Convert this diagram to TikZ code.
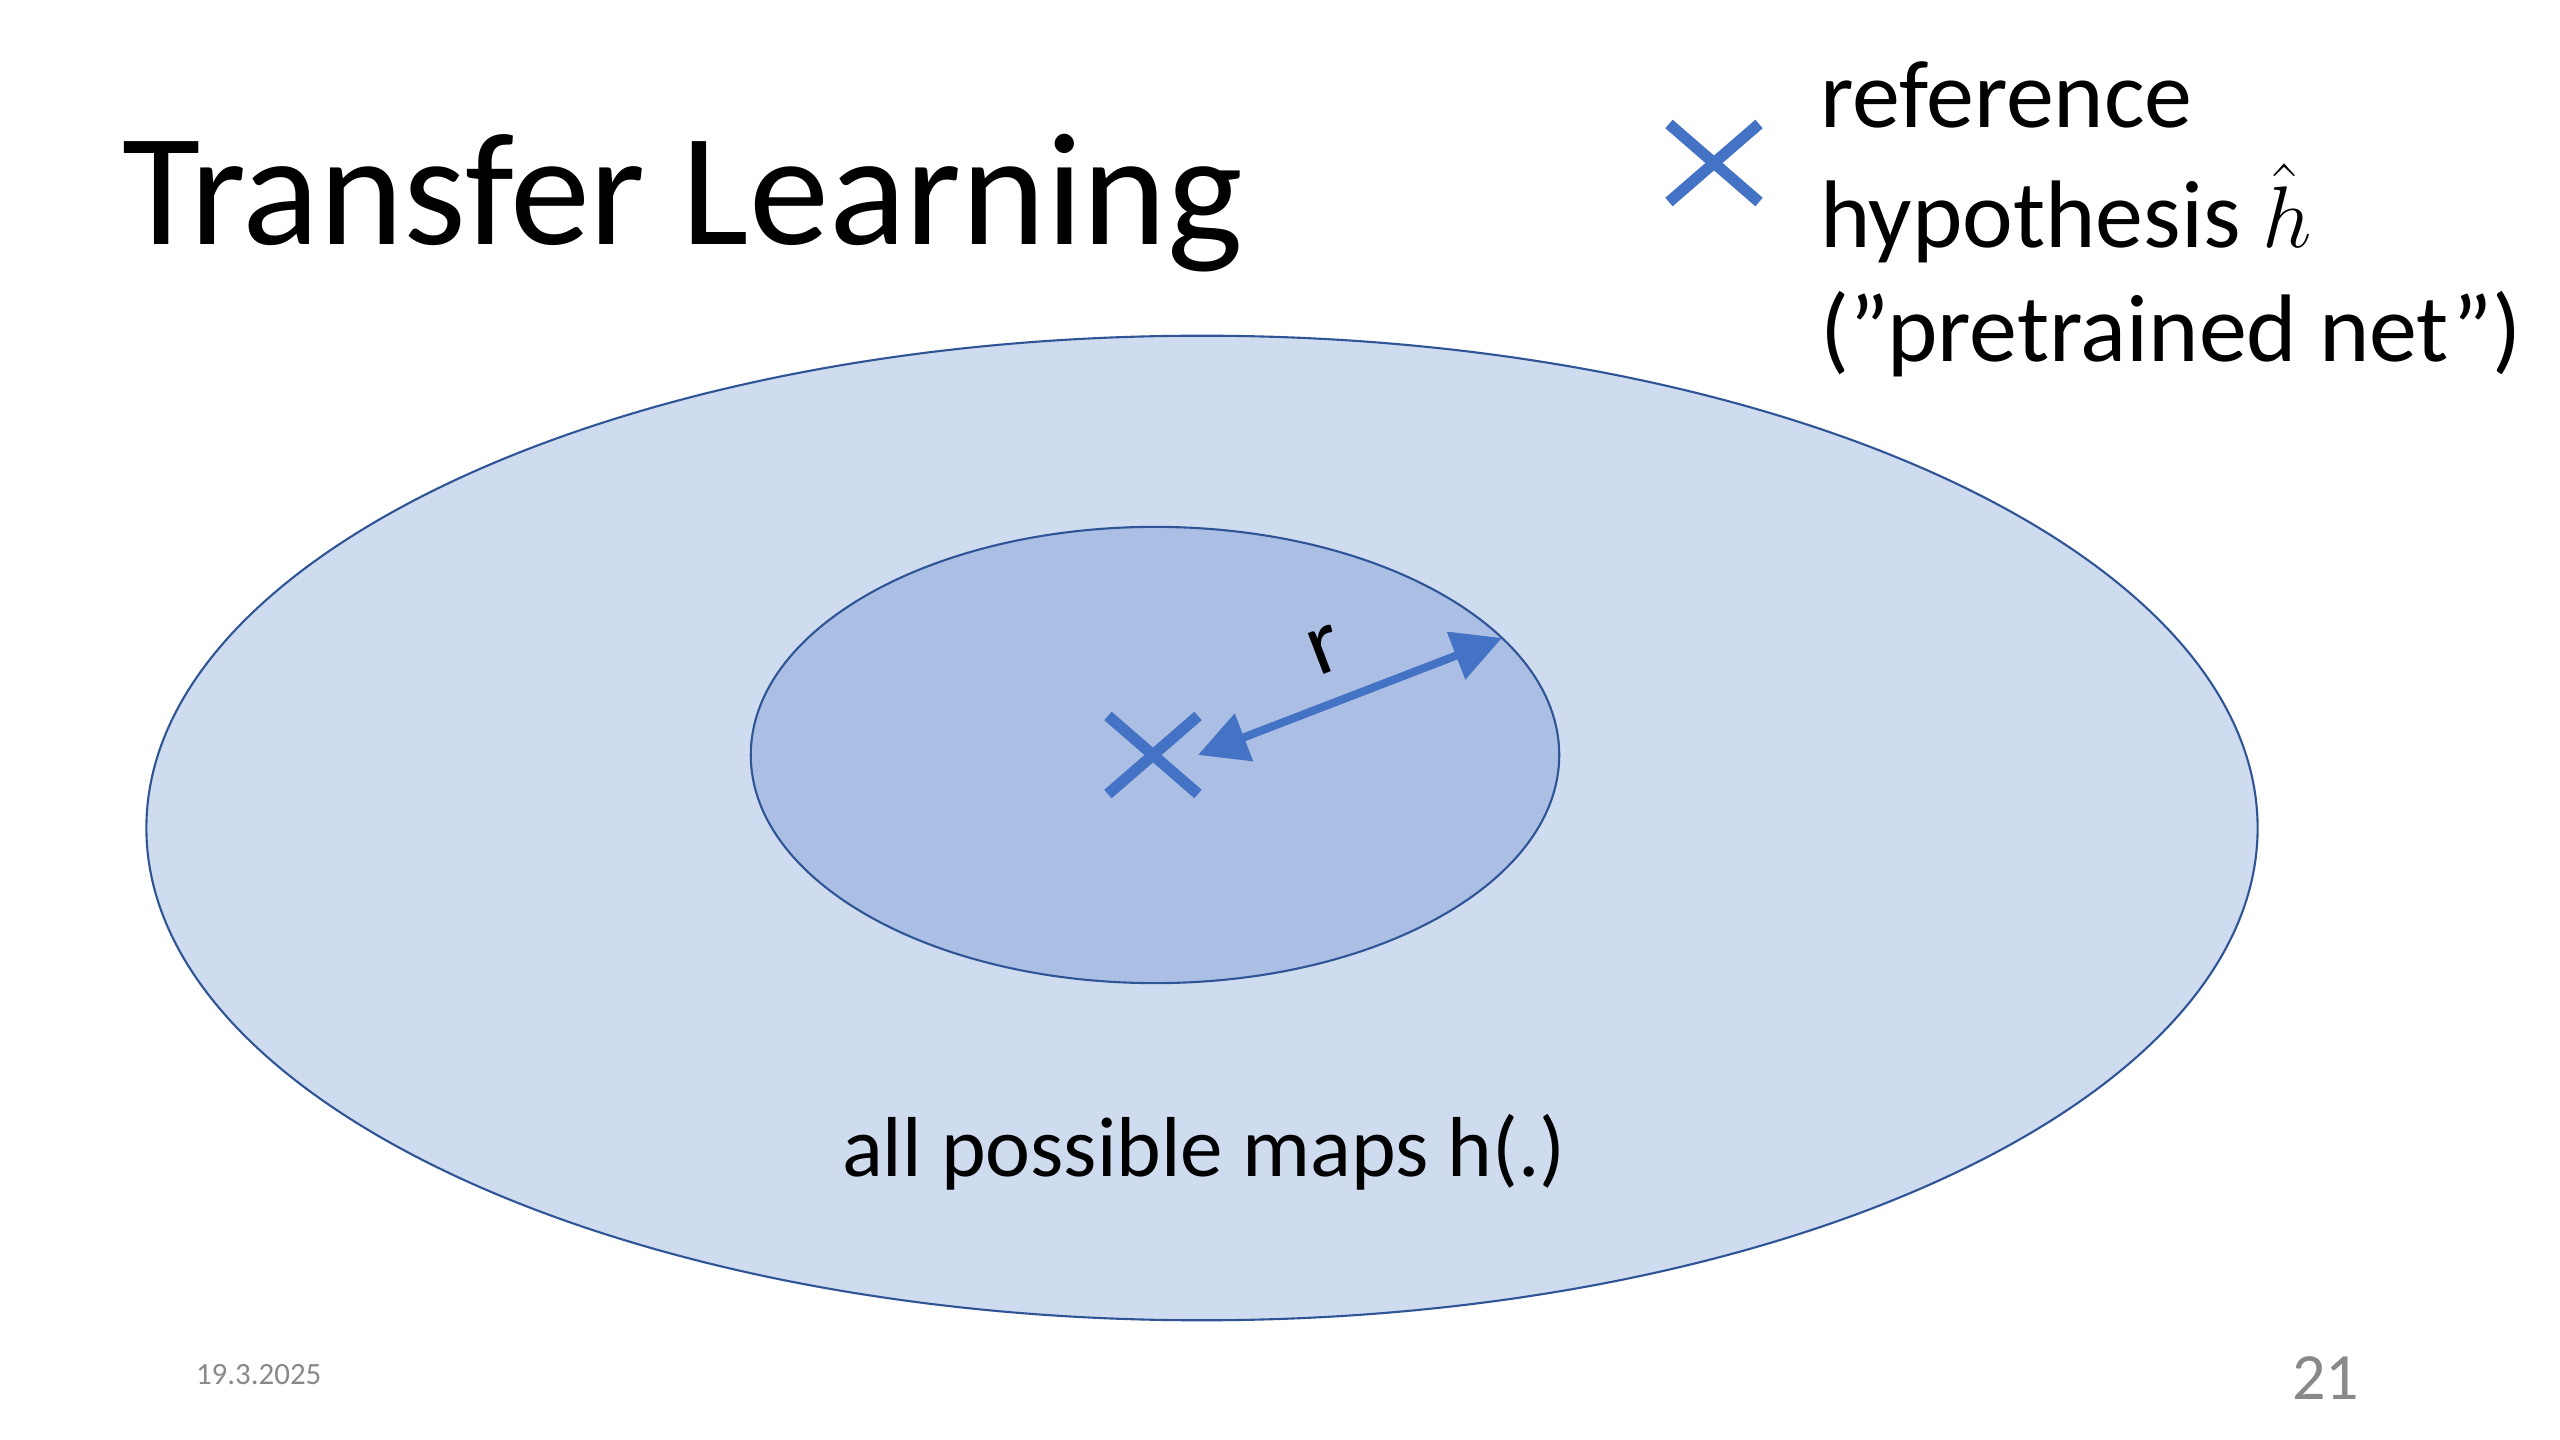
\documentclass[tikz,border=0pt]{standalone}
\usepackage{fontspec}
\setmainfont{Carlito}
\usetikzlibrary{arrows.meta,shapes.geometric}
\definecolor{outerfill}{RGB}{207,220,240}
\definecolor{innerfill}{RGB}{171,191,228}
\definecolor{rimblue}{RGB}{47,85,151}
\definecolor{markblue}{RGB}{68,114,196}
\definecolor{footgrey}{RGB}{137,137,137}
\begin{document}
\begin{tikzpicture}[x=0.01cm,y=-0.01cm,
  txt/.style={inner sep=0pt,outer sep=0pt,anchor=base west},
  region/.style={ellipse,draw=rimblue,line width=0.6pt,inner sep=0pt},
  xmark/.style={inner sep=0pt,outer sep=0pt,minimum width=0.9cm,minimum height=0.78cm},
  xline/.style={draw=markblue,line width=3.2pt},
  radiusarrow/.style={draw=markblue,line width=2.3pt,{Triangle[length=14pt,width=14pt]}-{Triangle[length=14pt,width=14pt]}}]
\useasboundingbox[fill=white] (0,0) rectangle (2560,1440);

% title
\node[txt] (title) at (122,245) {\fontsize{45.6}{54}\selectfont Transfer Learning};

% regions
\node[region,fill=outerfill,minimum width=21.1cm,minimum height=9.84cm] (outer) at (1202,828) {};
\node[region,fill=innerfill,minimum width=8.08cm,minimum height=4.56cm] (inner) at (1155,755) {};

% reference hypothesis marks
\node[xmark] (hc) at (1153,755) {};
\draw[xline] (hc.north west) -- (hc.south east) (hc.north east) -- (hc.south west);
\node[xmark] (lx) at (1714,163) {};
\draw[xline] (lx.north west) -- (lx.south east) (lx.north east) -- (lx.south west);

% radius arrow
\coordinate (rim) at (1502,638);
\draw[radiusarrow] (hc.east) -- (rim);
\node[inner sep=0pt,rotate=21] (rlab) at (1325,650) {\fontsize{26}{31}\selectfont r};

% legend
\node[txt] (leg1) at (1820,128) {\fontsize{27.3}{33}\selectfont reference};
\node[txt] (leg2) at (1820,248) {\fontsize{27.3}{33}\selectfont hypothesis \smash{$\hat{h}$}};
\node[txt] (leg3) at (1820,362) {\fontsize{27.3}{33}\selectfont (”pretrained net”)};

% set label
\node[inner sep=0pt,anchor=base] (maps) at (1204,1176) {\fontsize{24.2}{29}\selectfont all possible maps h(.)};

% footer
\node[txt,text=footgrey] (date) at (196,1384) {\fontsize{8.8}{11}\selectfont 19.3.2025};
\node[txt,text=footgrey] (page) at (2292,1399) {\fontsize{18.8}{23}\selectfont 21};
\end{tikzpicture}
\end{document}
